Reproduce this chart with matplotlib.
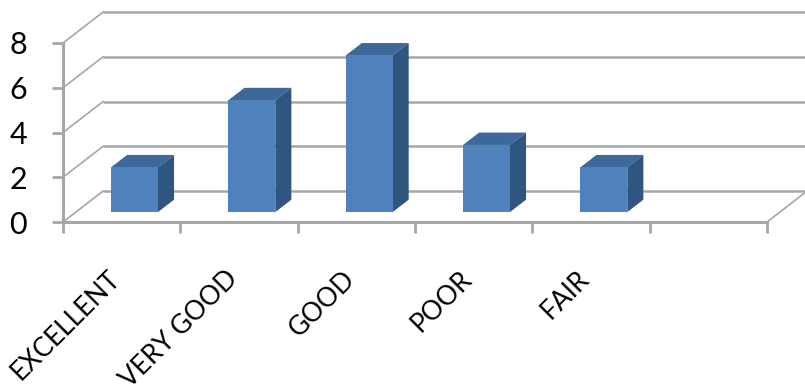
import matplotlib
matplotlib.use("Agg")
import matplotlib.pyplot as plt
from matplotlib.patches import Polygon

# survey responses per rating; the sixth slot is an empty category
categories = ["EXCELLENT", "VERY GOOD", "GOOD", "POOR", "FAIR", ""]
counts = [2, 5, 7, 3, 2, 0]
y_ticks = [0, 2, 4, 6, 8]

FRONT = "#4F81BD"
TOP = "#3D6899"
SIDE = "#30557F"
GRID = "#A6A6A6"

# oblique depth offset of the back wall, in data units (x: categories, y: values)
DX, DY = 0.342, 1.385
BAR_W = 0.4
BAR_D0, BAR_D1 = 0.32, 0.72  # bar front/back depth as fraction of floor depth


def proj(x, y, d):
    return (x + d * DX, y + d * DY)


fig = plt.figure(figsize=(8.05, 3.91), dpi=100)
fig.patch.set_facecolor("white")
ax = fig.add_axes([63 / 805, (391 - 222) / 391, 704 / 805, 179 / 391])
n = len(categories)
ax.set_xlim(0, n)
ax.set_ylim(0, 8)

# back wall gridlines and left-side connectors
for v in y_ticks:
    x0, y0 = proj(0, v, 1)
    x1, y1 = proj(n, v, 1)
    ax.plot([x0, x1], [y0, y1], color=GRID, lw=1.8, clip_on=False, zorder=1,
            solid_capstyle="butt")
    ax.plot([0, x0], [v, y0], color=GRID, lw=1.2, clip_on=False, zorder=1)
# right edge of the floor
xr, yr = proj(n, 0, 1)
ax.plot([n, xr], [0, yr], color=GRID, lw=1.2, clip_on=False, zorder=1)

# 3D columns: top, side, then front face
for i, v in enumerate(counts):
    if v == 0:
        continue
    xl = i + 0.5 - BAR_W / 2
    xr_ = i + 0.5 + BAR_W / 2
    fl = proj(xl, 0, BAR_D0)
    fr = proj(xr_, 0, BAR_D0)
    tl = proj(xl, v, BAR_D0)
    tr = proj(xr_, v, BAR_D0)
    br_t = proj(xr_, v, BAR_D1)
    bl_t = proj(xl, v, BAR_D1)
    br_b = proj(xr_, 0, BAR_D1)
    ax.add_patch(Polygon([tl, tr, br_t, bl_t], closed=True, fc=TOP, ec="none",
                         clip_on=False, zorder=3))
    ax.add_patch(Polygon([fr, br_b, br_t, tr], closed=True, fc=SIDE, ec="none",
                         clip_on=False, zorder=3))
    ax.add_patch(Polygon([fl, fr, tr, tl], closed=True, fc=FRONT, ec="none",
                         clip_on=False, zorder=4))

# axes: left and bottom spines only
for side in ["top", "right"]:
    ax.spines[side].set_visible(False)
for side in ["left", "bottom"]:
    ax.spines[side].set_color(GRID)
    ax.spines[side].set_linewidth(2.2)
    ax.spines[side].set_zorder(5)
ax.set_facecolor("none")

ax.set_yticks(y_ticks)
ax.set_yticklabels([str(t) for t in y_ticks], fontsize=22, family="Lato")
ax.tick_params(axis="y", length=8, width=2, color=GRID, pad=18)

ax.set_xticks(range(n + 1))
ax.set_xticklabels([])
ax.tick_params(axis="x", which="major", length=8, width=2, color=GRID)
ax.set_xticks([i + 0.5 for i in range(n)], minor=True)
ax.set_xticklabels(categories, minor=True, rotation=45, ha="right",
                   va="baseline", rotation_mode="anchor", fontsize=19,
                   family="Lato")
ax.tick_params(axis="x", which="minor", length=0, pad=42)

fig.savefig("out.png", dpi=100, facecolor="white")
